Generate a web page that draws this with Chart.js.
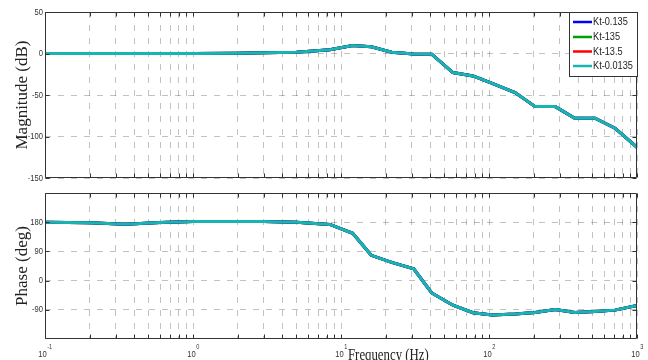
<!DOCTYPE html>
<html><head><meta charset="utf-8">
<script src="https://cdn.jsdelivr.net/npm/chart.js@4.4.0/dist/chart.umd.min.js"></script>
<style>
html,body{margin:0;padding:0;background:#fff;}
#wrap{position:relative;width:648px;height:360px;overflow:hidden;background:#fff;}
canvas{position:absolute;left:0;}
#c1{top:0;}
#c2{top:185px;}
</style></head><body>
<div id="wrap"><canvas id="c1" width="648" height="185"></canvas><canvas id="c2" width="648" height="175"></canvas></div>
<script>
// ---- data ----
const freqHz   = [0.1, 0.2, 0.35, 0.6, 1, 2, 3, 5, 8.4, 12, 16, 22, 31, 41, 57, 78, 105, 150, 205, 280, 380, 520, 710, 1000];
const magDb    = [0, 0, 0, 0, 0, 0.3, 0.8, 1.5, 4.5, 9.5, 8, 1.5, -0.5, -0.8, -23, -27, -36, -47, -64, -64, -78, -78, -90, -113];
const phaseDeg = [180, 178, 174, 179, 182, 182, 182, 180, 173, 146, 78, 56, 36, -38, -76, -99, -106, -103, -98, -89, -98, -95, -91, -77];
const seriesNames  = ['Kt-0.135', 'Kt-135', 'Kt-13.5', 'Kt-0.0135'];
const seriesColors = ['#0000ff', '#00a000', '#ff0000', '#1ab4b0'];
const magTicks   = [-150, -100, -50, 0, 50];
const phaseTicks = [-90, 0, 90, 180];
const decadeExps = ['-1', '0', '1', '2', '3'];
const decadeBase = '10';
const magTitle = 'Magnitude (dB)';
const phaseTitle = 'Phase (deg)';
const xTitle = 'Frequency (Hz)';

// x grid positions: 1..9 x each decade
const xGridVals = [];
for (let e = -1; e <= 2; e++) for (let k = 1; k <= 9; k++) xGridVals.push(Number((k * Math.pow(10, e)).toPrecision(3)));
xGridVals.push(1000);

const GRID = 'rgba(0,0,0,0.24)';
const DASH = [6, 7];

function makeDatasets(vals) {
  return seriesNames.map((n, i) => ({
    label: n,
    data: freqHz.map((f, j) => ({x: f, y: vals[j]})),
    borderColor: seriesColors[i],
    backgroundColor: seriesColors[i],
    borderWidth: 3,
    pointRadius: 0,
    tension: 0,
    fill: false,
    order: i === seriesNames.length - 1 ? 0 : 1
  }));
}

function drawNarrow(ctx, text, x, y, align, font, sx) {
  ctx.save();
  ctx.font = font;
  ctx.translate(x, y);
  ctx.scale(sx, 1);
  ctx.textAlign = align;
  ctx.fillText(text, 0, 0);
  ctx.restore();
}

const framePlugin = {
  id: 'frame',
  afterDraw(chart, args, opts) {
    const {ctx, chartArea: a, scales} = chart;
    ctx.save();
    ctx.setLineDash([]);
    ctx.strokeStyle = '#333';
    ctx.lineWidth = 1;
    const L = Math.round(a.left) + 0.5, R = Math.round(a.right) - 0.5;
    const T = Math.round(a.top) + 0.5, B = Math.round(a.bottom) - 0.5;
    ctx.beginPath();
    ctx.rect(L, T, R - L, B - T);
    ctx.stroke();
    // tick marks
    ctx.beginPath();
    xGridVals.forEach(v => {
      const px = Math.round(scales.x.getPixelForValue(v)) + 0.5;
      ctx.moveTo(px, T); ctx.lineTo(px, T + 4);
      ctx.moveTo(px, B); ctx.lineTo(px, B - 4);
    });
    opts.yTicks.forEach(v => {
      const py = Math.round(scales.y.getPixelForValue(v)) + 0.5;
      ctx.moveTo(L, py); ctx.lineTo(L + 4, py);
      ctx.moveTo(R, py); ctx.lineTo(R - 4, py);
    });
    ctx.stroke();
    // y tick labels
    ctx.fillStyle = '#333';
    ctx.textBaseline = 'middle';
    opts.yTicks.forEach(v => {
      const py = scales.y.getPixelForValue(v);
      drawNarrow(ctx, String(v), 43, py, 'right', '9.5px "Liberation Sans", Arial, sans-serif', 0.8);
    });
    // x decade labels
    if (opts.xLabels) {
      ctx.textBaseline = 'alphabetic';
      decadeExps.forEach((ex, i) => {
        const px = scales.x.getPixelForValue(Math.pow(10, i - 1));
        ctx.font = '9.5px "Liberation Sans", Arial, sans-serif';
        const w1 = ctx.measureText(decadeBase).width * 0.8;
        ctx.font = '7px "Liberation Sans", Arial, sans-serif';
        const w2 = ctx.measureText(ex).width * 0.8;
        const start = px - (w1 + w2) / 2;
        drawNarrow(ctx, decadeBase, start, 171.5, 'left', '9.5px "Liberation Sans", Arial, sans-serif', 0.8);
        drawNarrow(ctx, ex, start + w1 + 0.5, 163.5, 'left', '7px "Liberation Sans", Arial, sans-serif', 0.8);
      });
      ctx.fillStyle = '#222';
      drawNarrow(ctx, xTitle, 348, 174.6, 'left', '16px "Liberation Serif", "Times New Roman", serif', 0.8);
    }
    // legend
    if (opts.legend) {
      const bx = 569.5, by = 12.5, bw = 68, bh = 64;
      ctx.fillStyle = '#fff';
      ctx.fillRect(bx, by, bw, bh);
      ctx.strokeStyle = '#333';
      ctx.strokeRect(bx, by, bw, bh);
      const ys = [22, 37, 51.5, 66];
      chart.data.datasets.forEach((ds, i) => {
        ctx.strokeStyle = ds.borderColor;
        ctx.lineWidth = 2.5;
        ctx.beginPath();
        ctx.moveTo(573, ys[i]); ctx.lineTo(592, ys[i]);
        ctx.stroke();
        ctx.fillStyle = '#222';
        ctx.textBaseline = 'middle';
        drawNarrow(ctx, ds.label, 593, ys[i] + 0.5, 'left', '10px "Liberation Sans", Arial, sans-serif', 0.92);
      });
    }
    ctx.restore();
  }
};

function xScale(h) {
  return {
    type: 'logarithmic', min: 0.1, max: 1000,
    afterBuildTicks: s => { s.ticks = xGridVals.map(v => ({value: v})); },
    afterFit: s => { s.height = h; },
    ticks: {display: false},
    grid: {color: GRID, lineWidth: 1, drawTicks: false},
    border: {display: false, dash: DASH}
  };
}
function yScale(min, max, ticks, title) {
  return {
    type: 'linear', min: min, max: max,
    afterBuildTicks: s => { s.ticks = ticks.map(v => ({value: v})); },
    afterFit: s => { s.width = 45; },
    ticks: {display: false},
    grid: {color: GRID, lineWidth: 1, drawTicks: false},
    border: {display: false, dash: DASH},
    title: {display: true, text: title, color: '#222',
      font: {family: '"Liberation Serif", "Times New Roman", serif', size: 17},
      padding: {top: 12, bottom: 0}}
  };
}

new Chart(document.getElementById('c1'), {
  type: 'line',
  data: {datasets: makeDatasets(magDb)},
  options: {
    responsive: false, animation: false, devicePixelRatio: 1,
    layout: {padding: {top: 12, right: 11, left: 0, bottom: 0}},
    plugins: {legend: {display: false}, tooltip: {enabled: false},
      frame: {yTicks: magTicks, legend: true, xLabels: false}},
    scales: {x: xScale(7), y: yScale(-150, 50, magTicks, magTitle)}
  },
  plugins: [framePlugin]
});

new Chart(document.getElementById('c2'), {
  type: 'line',
  data: {datasets: makeDatasets(phaseDeg)},
  options: {
    responsive: false, animation: false, devicePixelRatio: 1,
    layout: {padding: {top: 8, right: 11, left: 0, bottom: 0}},
    plugins: {legend: {display: false}, tooltip: {enabled: false},
      frame: {yTicks: phaseTicks, legend: false, xLabels: true}},
    scales: {x: xScale(21), y: yScale(-180, 270, phaseTicks, phaseTitle)}
  },
  plugins: [framePlugin]
});
</script>
</body></html>
